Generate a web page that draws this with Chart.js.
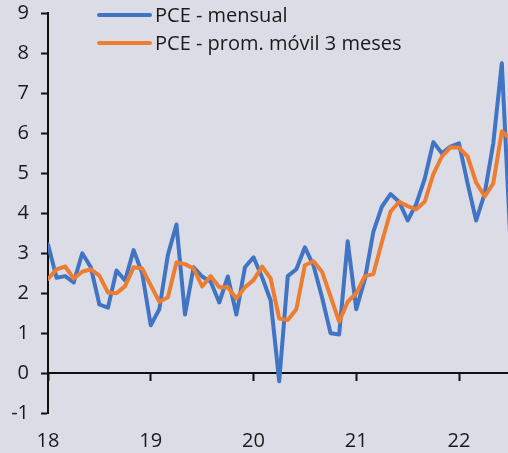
<!DOCTYPE html>
<html>
<head>
<meta charset="utf-8">
<script src="https://cdn.jsdelivr.net/npm/chart.js@4/dist/chart.umd.min.js"></script>
<style>
  html, body { margin: 0; padding: 0; background: #DCDCE7; overflow: hidden; }
  #wrap { width: 508px; height: 453px; }
</style>
</head>
<body>
<div id="wrap"><canvas id="c" width="508" height="453"></canvas></div>
<script>
// Months: Jan 2018 .. Jul 2022
const months = [
  '2018-01','2018-02','2018-03','2018-04','2018-05','2018-06','2018-07','2018-08','2018-09','2018-10','2018-11','2018-12',
  '2019-01','2019-02','2019-03','2019-04','2019-05','2019-06','2019-07','2019-08','2019-09','2019-10','2019-11','2019-12',
  '2020-01','2020-02','2020-03','2020-04','2020-05','2020-06','2020-07','2020-08','2020-09','2020-10','2020-11','2020-12',
  '2021-01','2021-02','2021-03','2021-04','2021-05','2021-06','2021-07','2021-08','2021-09','2021-10','2021-11','2021-12',
  '2022-01','2022-02','2022-03','2022-04','2022-05','2022-06','2022-07'
];
const pceMensual = [
  3.22, 2.39, 2.43, 2.27, 3.00, 2.65, 1.72, 1.64, 2.57, 2.32, 3.08, 2.50,
  1.20, 1.60, 2.96, 3.72, 1.47, 2.65, 2.42, 2.29, 1.77, 2.42, 1.47, 2.65,
  2.90, 2.40, 1.82, -0.20, 2.43, 2.60, 3.15, 2.70, 1.90, 1.00, 0.97, 3.30,
  1.60, 2.35, 3.54, 4.17, 4.48, 4.29, 3.82, 4.23, 4.87, 5.78, 5.50, 5.67,
  5.75, 4.75, 3.82, 4.50, 5.75, 7.75, 3.30
];
const pceProm3 = [
  2.36, 2.60, 2.67, 2.37, 2.54, 2.60, 2.44, 2.02, 2.00, 2.18, 2.65, 2.62,
  2.20, 1.79, 1.90, 2.77, 2.73, 2.62, 2.17, 2.43, 2.15, 2.15, 1.87, 2.15,
  2.33, 2.67, 2.37, 1.37, 1.33, 1.60, 2.70, 2.80, 2.54, 1.92, 1.29, 1.79,
  2.00, 2.43, 2.48, 3.29, 4.04, 4.29, 4.18, 4.10, 4.29, 4.98, 5.42, 5.65,
  5.64, 5.42, 4.77, 4.42, 4.75, 6.05, 5.85
];
const yearTickIndex = [0, 12, 24, 36, 48];
const yearTickLabels = ['18', '19', '20', '21', '22'];
const seriesNames = ['PCE - mensual', 'PCE - prom. móvil 3 meses'];
const seriesColors = ['#4174C2', '#ED7D31'];

const toPoints = arr => arr.map((v, i) => ({ x: i, y: v }));

const bgPlugin = {
  id: 'bg',
  beforeDraw(chart) {
    const ctx = chart.ctx;
    ctx.save();
    ctx.fillStyle = '#DCDCE7';
    ctx.fillRect(0, 0, chart.width, chart.height);
    ctx.restore();
  }
};

const legendPlugin = {
  id: 'customLegend',
  afterDraw(chart) {
    const ctx = chart.ctx;
    ctx.save();
    const rows = [15, 43];
    seriesNames.forEach((name, i) => {
      const y = rows[i];
      ctx.strokeStyle = seriesColors[i];
      ctx.lineWidth = 4;
      ctx.lineCap = 'round';
      ctx.beginPath();
      ctx.moveTo(99, y);
      ctx.lineTo(150, y);
      ctx.stroke();
      ctx.fillStyle = '#1a1a1a';
      ctx.font = "20px 'Open Sans', sans-serif";
      ctx.textBaseline = 'middle';
      ctx.textAlign = 'left';
      ctx.fillText(name, 155, y + 1);
    });
    ctx.restore();
  }
};

function zeroPad(s) {
  s.paddingLeft = 0; s.paddingRight = 0; s.paddingTop = 0; s.paddingBottom = 0;
}

Chart.defaults.font.family = "'Open Sans', sans-serif";
Chart.defaults.font.size = 20;
Chart.defaults.color = '#1a1a1a';

new Chart(document.getElementById('c'), {
  type: 'line',
  data: {
    datasets: [
      {
        label: seriesNames[1],
        data: toPoints(pceProm3),
        borderColor: seriesColors[1],
        backgroundColor: seriesColors[1],
        borderWidth: 4,
        pointRadius: 0,
        tension: 0,
        borderJoinStyle: 'round',
        borderCapStyle: 'round',
        order: 0
      },
      {
        label: seriesNames[0],
        data: toPoints(pceMensual),
        borderColor: seriesColors[0],
        backgroundColor: seriesColors[0],
        borderWidth: 4,
        pointRadius: 0,
        tension: 0,
        borderJoinStyle: 'round',
        borderCapStyle: 'round',
        order: 1
      }
    ]
  },
  options: {
    responsive: false,
    animation: false,
    layout: { padding: { top: 13.3, bottom: 39.7, left: 0, right: 0 } },
    plugins: {
      legend: { display: false },
      tooltip: { enabled: false }
    },
    scales: {
      x: {
        type: 'linear',
        position: { y: 0 },
        min: 0,
        max: 53.72,
        afterFit: s => { s.height = 0; zeroPad(s); },
        afterBuildTicks: s => { s.ticks = yearTickIndex.map(v => ({ value: v })); },
        ticks: {
          autoSkip: false,
          maxRotation: 0,
          padding: 49,
          color: '#1a1a1a',
          callback: (v) => {
            const k = yearTickIndex.indexOf(v);
            return k >= 0 ? yearTickLabels[k] : '';
          }
        },
        grid: {
          drawOnChartArea: false,
          drawTicks: true,
          tickLength: 7,
          tickWidth: 2,
          tickColor: '#111'
        },
        border: { display: true, color: '#111', width: 2 }
      },
      y: {
        position: 'left',
        min: -1,
        max: 9,
        afterFit: s => { s.width = 48; zeroPad(s); },
        ticks: { stepSize: 1, padding: 12, color: '#1a1a1a' },
        grid: {
          drawOnChartArea: false,
          drawTicks: true,
          tickLength: 7,
          tickWidth: 2,
          tickColor: '#111'
        },
        border: { display: true, color: '#111', width: 2 }
      }
    }
  },
  plugins: [bgPlugin, legendPlugin]
});
</script>
</body>
</html>
